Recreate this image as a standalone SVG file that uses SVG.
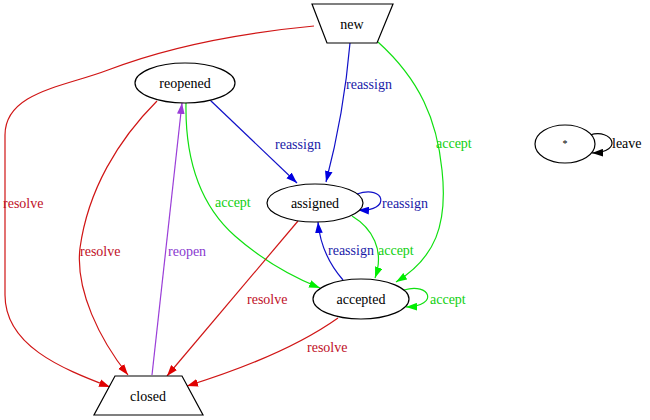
<svg xmlns="http://www.w3.org/2000/svg" width="650" height="420" viewBox="0 0 650 420">
<style>
.n{fill:#fff;stroke:#000;stroke-width:1.2}
.t{font-family:"Liberation Serif","Times New Roman",serif;font-size:14px}
.c{text-anchor:middle;fill:#000}
.e{fill:none;stroke-width:1.2}
.r{stroke:#d01515}.b{stroke:#1010c8}.g{stroke:#10e010}.p{stroke:#9a3ed8}.k{stroke:#000}
.lr{fill:#c01028}.lb{fill:#1a1aa8}.lg{fill:#10d010}.lp{fill:#8a3ad0}.lk{fill:#000}
</style>
<defs>
<marker id="ar" viewBox="0 0 10 7" refX="10" refY="3.5" markerWidth="11" markerHeight="8" markerUnits="userSpaceOnUse" orient="auto"><path d="M0,0L10,3.5L0,7z" fill="#e00000"/></marker>
<marker id="ab" viewBox="0 0 10 7" refX="10" refY="3.5" markerWidth="11" markerHeight="8" markerUnits="userSpaceOnUse" orient="auto"><path d="M0,0L10,3.5L0,7z" fill="#0000e0"/></marker>
<marker id="ag" viewBox="0 0 10 7" refX="10" refY="3.5" markerWidth="11" markerHeight="8" markerUnits="userSpaceOnUse" orient="auto"><path d="M0,0L10,3.5L0,7z" fill="#00ee00"/></marker>
<marker id="ap" viewBox="0 0 10 7" refX="10" refY="3.5" markerWidth="11" markerHeight="8" markerUnits="userSpaceOnUse" orient="auto"><path d="M0,0L10,3.5L0,7z" fill="#9a3ed8"/></marker>
<marker id="ak" viewBox="0 0 10 7" refX="10" refY="3.5" markerWidth="11" markerHeight="8" markerUnits="userSpaceOnUse" orient="auto"><path d="M0,0L10,3.5L0,7z" fill="#000"/></marker>
</defs>
<g id="edges">
<path class="e r" marker-end="url(#ar)" d="M314,26 C230,34 160,50 108,70 C65,86.5 5,92 5,135 L5,295 C5,345 60,368 110,387"/>
<path class="e r" marker-end="url(#ar)" d="M157,101 C118,140 88,190 80,248 C75,290 100,340 128,375"/>
<path class="e p" marker-end="url(#ap)" d="M152,375 L182,103"/>
<path class="e b" marker-end="url(#ab)" d="M210,100 L297,183"/>
<path class="e g" marker-end="url(#ag)" d="M186,103 C185,160 200,205 235,236 C260,258 290,276 320,288"/>
<path class="e r" marker-end="url(#ar)" d="M298,221 L167,376"/>
<path class="e r" marker-end="url(#ar)" d="M338,318 C300,345 245,368 187,386"/>
<path class="e b" marker-end="url(#ab)" d="M350,43 C346,90 337,140 326,182"/>
<path class="e g" marker-end="url(#ag)" d="M378,42 C420,80 437,120 442,170 C448,225 435,258 396,282"/>
<path class="e b" marker-end="url(#ab)" d="M357,194 C385,184 392,212 358,210"/>
<path class="e b" marker-end="url(#ab)" d="M343,280 C330,265 320,245 318,222"/>
<path class="e g" marker-end="url(#ag)" d="M352,216 C372,228 385,250 375,278"/>
<path class="e g" marker-end="url(#ag)" d="M404,290 C430,282 440,306 406,307"/>
<path class="e k" marker-end="url(#ak)" d="M590,135 C612,128 625,152 592,153"/>
<g class="t">
<text class="lr" x="3" y="208">resolve</text>
<text class="lb" x="346" y="89">reassign</text>
<text class="lg" x="436" y="148">accept</text>
<text class="lb" x="275" y="149">reassign</text>
<text class="lg" x="215" y="207">accept</text>
<text class="lb" x="382" y="208">reassign</text>
<text class="lr" x="80" y="256">resolve</text>
<text class="lp" x="168" y="256">reopen</text>
<text class="lb" x="328" y="255">reassign</text>
<text class="lg" x="378" y="255">accept</text>
<text class="lr" x="247" y="304">resolve</text>
<text class="lg" x="430" y="304">accept</text>
<text class="lr" x="307" y="352">resolve</text>
<text class="lk" x="612" y="148">leave</text>
</g>
</g>
<g id="new"><polygon class="n" points="312,4 393,4 377,43 327,43"/><text class="t c" x="352" y="29">new</text></g>
<g id="reopened"><ellipse class="n" cx="185" cy="83" rx="50" ry="20"/><text class="t c" x="185" y="88">reopened</text></g>
<g id="assigned"><ellipse class="n" cx="315" cy="203" rx="48" ry="19"/><text class="t c" x="315" y="208">assigned</text></g>
<g id="accepted"><ellipse class="n" cx="361" cy="299" rx="48" ry="20"/><text class="t c" x="361" y="304">accepted</text></g>
<g id="closed"><polygon class="n" points="115,376 182,376 203,415 94,415"/><text class="t c" x="148" y="401">closed</text></g>
<g id="star"><ellipse class="n" cx="565" cy="144" rx="30" ry="19"/><text class="t c" x="565" y="147" style="font-size:10px">*</text></g>
</svg>
